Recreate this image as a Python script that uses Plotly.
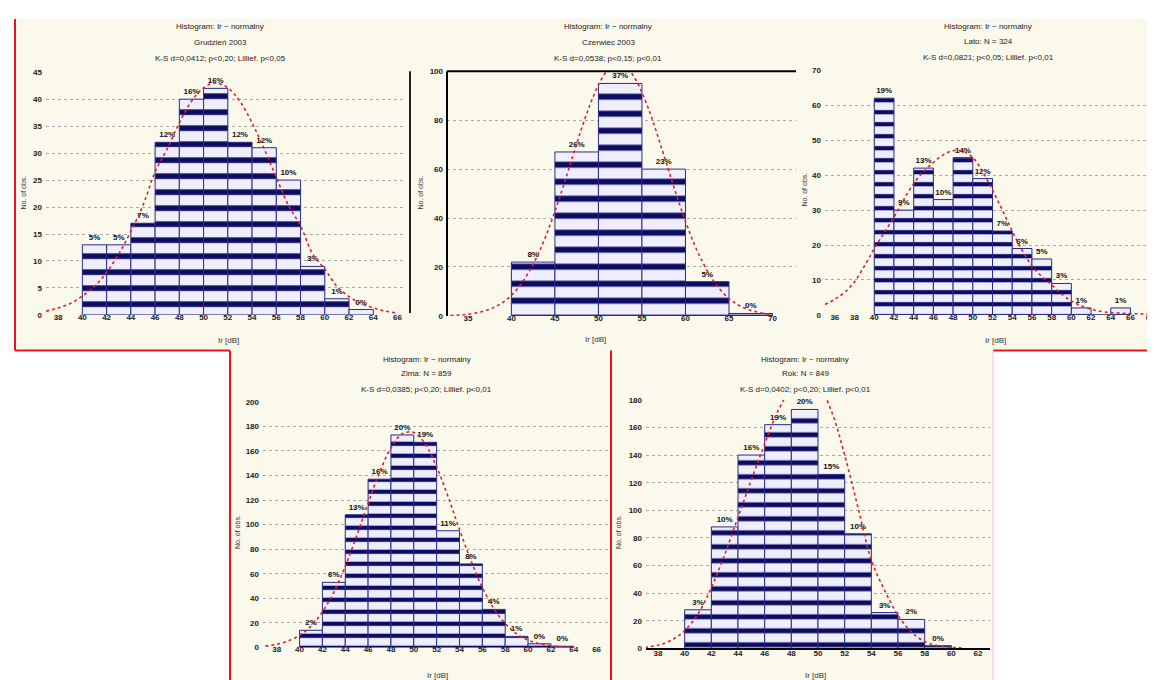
import plotly.graph_objects as go

# ---------------- data ----------------
# Panel 1
p1_centers = [41, 43, 45, 47, 49, 51, 53, 55, 57, 59, 61, 63]
p1_counts = [13, 13, 17, 32, 40, 42, 32, 31, 25, 9, 3, 1]
p1_curve_x = list(range(37, 67))
p1_curve_y = [0.7, 1.3, 2.1, 3.5, 5.3, 7.9, 11.3, 15.5, 20.3, 26.5, 30.8, 35.6, 39.6, 42.1, 43.0,
              42.1, 39.6, 35.6, 30.8, 25.5, 20.3, 16.5, 11.3, 8.5, 5.3, 3.4, 2.1, 1.3, 0.7, 0.4]
p1_xticks = [38, 40, 42, 44, 46, 48, 50, 52, 54, 56, 58, 60, 62, 64, 66]
p1_yticks = [0, 5, 10, 15, 20, 25, 30, 35, 40, 45]

# Panel 2
p2_centers = [42.5, 47.5, 52.5, 57.5, 62.5, 67.5]
p2_counts = [22, 67, 95, 60, 14, 1]
p2_curve_x = list(range(33, 71))
p2_curve_y = [0.2, 0.4, 0.7, 1.3, 2.2, 3.5, 5.5, 8.4, 12.5, 17.9, 24.7, 33, 42.7, 53.4, 64.7,
              75.9, 86, 94.4, 100.2, 102.9, 102.2, 98.2, 91.3, 82.2, 71.5, 60.2, 49, 38.7, 29.4,
              21.8, 15.5, 10.7, 7.1, 4.6, 2.9, 1.8, 1.0, 0.6]
p2_xticks = [35, 40, 45, 50, 55, 60, 65, 70]
p2_yticks = [0, 20, 40, 60, 80, 100]

# Panel 3
p3_centers = [41, 43, 45, 47, 49, 51, 53, 55, 57, 59, 61, 63, 65]
p3_counts = [62, 30, 42, 33, 45, 39, 24, 19, 16, 9, 2, 0, 2]
p3_curve_x = list(range(35, 69))
p3_curve_y = [3, 4.5, 6.5, 9.5, 14, 19, 23.5, 28, 33, 37.6, 41, 43.6, 45.8, 47, 46.8, 45, 41,
              35.7, 30, 24, 18.5, 14, 11, 8.6, 6, 4, 2.6, 1.6, 1.0, 0.7, 0.5, 0.4, 0.3, 0.2]
p3_xticks = [36, 38, 40, 42, 44, 46, 48, 50, 52, 54, 56, 58, 60, 62, 64, 66, 68]
p3_yticks = [0, 10, 20, 30, 40, 50, 60, 70]

# Panel 4
p4_centers = [41, 43, 45, 47, 49, 51, 53, 55, 57, 59, 61, 63]
p4_counts = [14, 53, 108, 137, 173, 167, 95, 68, 31, 9, 3, 1]
p4_curve_x = list(range(37, 65))
p4_curve_y = [1.2, 2.6, 5.3, 9.9, 17.4, 29, 45.1, 66, 90.9, 117.4, 142.5, 162.5, 174, 175,
              165.6, 147, 122.7, 96.1, 70.8, 48.9, 31.8, 19.5, 11.1, 6, 3, 1.4, 0.6, 0.3]
p4_xticks = [38, 40, 42, 44, 46, 48, 50, 52, 54, 56, 58, 60, 62, 64, 66]
p4_yticks = [0, 20, 40, 60, 80, 100, 120, 140, 160, 180, 200]

# Panel 5
p5_centers = [41, 43, 45, 47, 49, 51, 53, 55, 57, 59]
p5_counts = [28, 88, 140, 162, 173, 126, 83, 26, 21, 2]
p5_curve_x = list(range(37, 62))
p5_curve_y = [0.8, 2.4, 6, 13, 25, 44, 68, 95, 122, 148, 172, 188, 195, 191, 172, 140, 102,
              64, 42, 24, 12, 5, 2, 0.8, 0.3]
p5_xticks = [38, 40, 42, 44, 46, 48, 50, 52, 54, 56, 58, 60, 62]
p5_yticks = [0, 20, 40, 60, 80, 100, 120, 140, 160, 180]

titles = [
    ["Histogram: Ir ~ normalny", "Grudzień 2003", "K-S d=0,0412; p<0,20; Lillief. p<0,05"],
    ["Histogram: Ir ~ normalny", "Czerwiec 2003", "K-S d=0,0538; p<0,15; p<0,01"],
    ["Histogram: Ir ~ normalny", "Lato: N = 324", "K-S d=0,0821; p<0,05; Lillief. p<0,01"],
    ["Histogram: Ir ~ normalny", "Zima: N = 859", "K-S d=0,0385; p<0,20; Lillief. p<0,01"],
    ["Histogram: Ir ~ normalny", "Rok: N = 849", "K-S d=0,0402; p<0,20; Lillief. p<0,01"],
]
x_title = "Ir [dB]"
y_title = "No. of obs."

# ---------------- layout geometry (pixels) ----------------
W, H = 1155, 680
panels = [
    dict(c=p1_centers, v=p1_counts, w=2, cx=p1_curve_x, cy=p1_curve_y, xt=p1_xticks, yt=p1_yticks,
         plot=(38, 398, 61, 307), xr=[37, 66.7], yr=[0, 45], box=(8, 400, 7, 343), psize=16,
         tcx=212, ty=(15, 31, 47), xtl=(220, 333), ytl=(16, 183)),
    dict(c=p2_centers, v=p2_counts, w=5, cx=p2_curve_x, cy=p2_curve_y, xt=p2_xticks, yt=p2_yticks,
         plot=(439, 788, 60, 308), xr=[32.6, 72.7], yr=[0, 100], box=(400, 790, 7, 343), psize=17,
         tcx=600, ty=(15, 31, 47), xtl=(587, 332), ytl=(413, 183)),
    dict(c=p3_centers, v=p3_counts, w=2, cx=p3_curve_x, cy=p3_curve_y, xt=p3_xticks, yt=p3_yticks,
         plot=(817, 1155, 59, 307), xr=[35, 69.3], yr=[0, 70], box=(790, 1155, 7, 343), psize=12,
         tcx=980, ty=(15, 30, 46), xtl=(987, 333), ytl=(797, 180)),
    dict(c=p4_centers, v=p4_counts, w=2, cx=p4_curve_x, cy=p4_curve_y, xt=p4_xticks, yt=p4_yticks,
         plot=(255, 600, 395, 644), xr=[36.8, 67.0], yr=[0, 200], box=(222, 603, 343, 680), psize=12,
         tcx=419, ty=(352, 366, 383), xtl=(429, 672), ytl=(229, 527)),
    dict(c=p5_centers, v=p5_counts, w=2, cx=p5_curve_x, cy=p5_curve_y, xt=p5_xticks, yt=p5_yticks,
         plot=(638, 982, 393, 645), xr=[37.1, 62.9], yr=[0, 180], box=(603, 985, 343, 680), psize=14,
         tcx=797, ty=(352, 366, 383), xtl=(807, 672), ytl=(610, 527)),
]

def fx(px):
    return px / W

def fy(py):
    return 1 - py / H

NAVY = "#0c0c62"
LAV = "#eeeefc"
CREAM = "#fbf8ec"
FONT = "Liberation Sans"

fig = go.Figure()
layout = dict(width=W, height=H, margin=dict(l=0, r=0, t=0, b=0), paper_bgcolor="white",
              plot_bgcolor="white", showlegend=False, font=dict(family=FONT, size=8, color="#222"))
shapes = []
annotations = []

for i, p in enumerate(panels, start=1):
    xa = "x" if i == 1 else f"x{i}"
    ya = "y" if i == 1 else f"y{i}"
    total = sum(p["v"])
    labels = [f"{round(100 * v / total)}%" if v > 0 else "" for v in p["v"]]
    fig.add_trace(go.Bar(
        x=p["c"], y=p["v"], width=p["w"], xaxis=xa, yaxis=ya,
        marker=dict(color=LAV, line=dict(color="#2a2a8c", width=1),
                    pattern=dict(shape="-", fgcolor=NAVY, fgopacity=1, bgcolor=LAV,
                                 fillmode="replace", size=p["psize"], solidity=0.35)),
        text=labels, textposition="outside", cliponaxis=False, constraintext="none",
        textfont=dict(size=8, color="#111", family=FONT, weight="bold"),
    ))
    fig.add_trace(go.Scatter(
        x=p["cx"], y=p["cy"], xaxis=xa, yaxis=ya, mode="lines",
        line=dict(color="#e0202a", width=1.6, dash="dot", shape="spline"),
    ))
    l, r, t, b = p["plot"]
    layout["xaxis" if i == 1 else f"xaxis{i}"] = dict(
        domain=[fx(l), fx(r)], range=p["xr"], anchor=ya, tickvals=p["xt"], showgrid=False,
        zeroline=False, showline=(i == 5), linecolor="black", linewidth=2, ticks="",
        ticklabelstandoff=-4,
        tickfont=dict(size=8, color="#222", family=FONT, weight="bold"), fixedrange=True)
    layout["yaxis" if i == 1 else f"yaxis{i}"] = dict(
        domain=[fy(b), fy(t)], range=p["yr"], anchor=xa, tickvals=p["yt"], showgrid=True,
        gridcolor="#aaaaaa", griddash="dot", gridwidth=1, zeroline=False, ticks="",
        ticklabelstandoff=3,
        tickfont=dict(size=8, color="#222", family=FONT, weight="bold"), fixedrange=True)
    bl, br, bt, bb = p["box"]
    shapes.append(dict(type="rect", xref="paper", yref="paper", x0=fx(bl), x1=fx(br), y0=fy(bb), y1=fy(bt),
                       fillcolor=CREAM, line=dict(width=0), layer="below"))
    for k, line in enumerate(titles[i - 1]):
        annotations.append(dict(xref="paper", yref="paper", x=fx(p["tcx"]), y=fy(p["ty"][k]), text=line,
                                showarrow=False, xanchor="center", yanchor="middle",
                                font=dict(size=8, color="#222", family=FONT)))
    annotations.append(dict(xref="paper", yref="paper", x=fx(p["xtl"][0]), y=fy(p["xtl"][1]), text=x_title,
                            showarrow=False, xanchor="center", yanchor="middle",
                            font=dict(size=8, color="#333", family=FONT)))
    annotations.append(dict(xref="paper", yref="paper", x=fx(p["ytl"][0]), y=fy(p["ytl"][1]), text=y_title,
                            showarrow=False, xanchor="center", yanchor="middle", textangle=-90,
                            font=dict(size=7, color="#333", family=FONT)))

# panel 2 black frame (left and top)
l, r, t, b = panels[1]["plot"]
shapes.append(dict(type="line", xref="paper", yref="paper", x0=fx(l), x1=fx(l), y0=fy(b), y1=fy(t),
                   line=dict(color="black", width=2)))
shapes.append(dict(type="line", xref="paper", yref="paper", x0=fx(l), x1=fx(r), y0=fy(t), y1=fy(t),
                   line=dict(color="black", width=2)))
shapes.append(dict(type="line", xref="paper", yref="paper", x0=fx(402), x1=fx(402), y0=fy(305), y1=fy(60),
                   line=dict(color="#222", width=2)))

# red frame lines
red_lines = [((7, 7), (7, 343)), ((7, 343), (222, 343)), ((222, 343), (222, 680)),
             ((603, 343), (603, 680)), ((985, 343), (1155, 343))]
for (x0, y0), (x1, y1) in red_lines:
    shapes.append(dict(type="line", xref="paper", yref="paper", x0=fx(x0), x1=fx(x1), y0=fy(y0), y1=fy(y1),
                       line=dict(color="#e8141c", width=2)))
shapes.append(dict(type="line", xref="paper", yref="paper", x0=fx(985), x1=fx(985), y0=fy(343), y1=fy(680),
                   line=dict(color="#f0c8c8", width=1)))

layout["shapes"] = shapes
layout["annotations"] = annotations
fig.update_layout(**layout)
fig.write_html("out.html")
